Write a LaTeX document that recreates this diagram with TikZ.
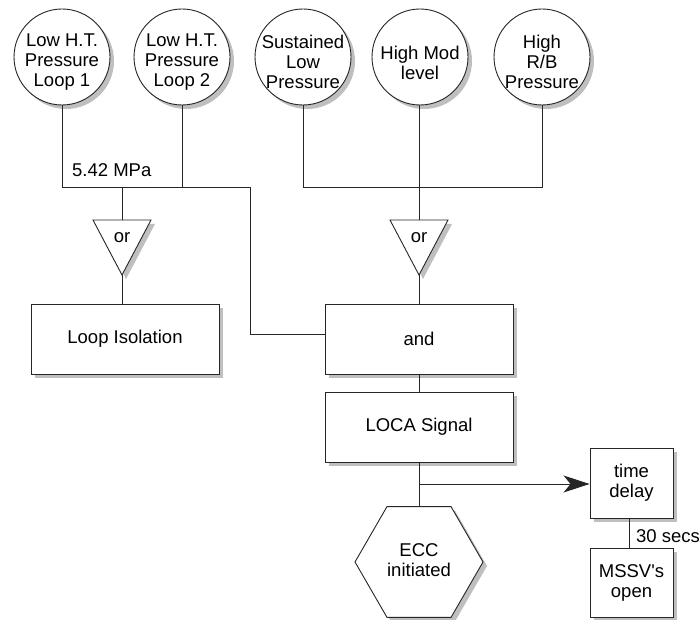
\documentclass[tikz,border=0pt]{standalone}
\usepackage{fontspec}
\setmainfont{Liberation Sans}
\usetikzlibrary{shapes.geometric,shadows,arrows.meta}
\begin{document}
\begin{tikzpicture}[x=1pt,y=-1pt,
  every node/.style={font=\fontsize{18.5}{20}\selectfont},
  shad/.style={drop shadow={shadow xshift=4pt,shadow yshift=-4pt,fill=black!25,opacity=1,draw=none}},
  line/.style={line width=0.9pt,draw=black!85},
  sensor/.style={circle,line,fill=white,shad,minimum size=96pt,inner sep=0pt},
  lbl/.style={align=center,inner sep=0pt},
  blk/.style={rectangle,line,fill=white,shad,inner sep=0pt,align=center},
  gate/.style={line,fill=white,shad}
]
\useasboundingbox (0,0) rectangle (699,620);

% sensors
\node[sensor] (c1) at (62,57) {};
\node[sensor] (c2) at (182,57) {};
\node[sensor] (c3) at (303,57) {};
\node[sensor] (c4) at (420,57) {};
\node[sensor] (c5) at (542,57) {};
\node[lbl] (t1) at (62,62) {Low H.T.\\Pressure\\Loop 1};
\node[lbl] (t2) at (182,62) {Low H.T.\\Pressure\\Loop 2};
\node[lbl] (t3) at (303,62) {Sustained\\Low\\Pressure};
\node[lbl] (t4) at (420,63) {High Mod\\level};
\node[lbl] (t5) at (542,62) {High\\R/B\\Pressure};

% or gates
\coordinate (or1top) at (122,220);
\coordinate (or1apex) at (122,275);
\coordinate (or2top) at (419,220);
\coordinate (or2apex) at (419,275);
\path[gate] (93,220) -- (151,220) -- (or1apex) -- cycle;
\path[gate] (390,220) -- (448,220) -- (or2apex) -- cycle;
\node[lbl] (or1) at (122,238) {or};
\node[lbl] (or2) at (419,238) {or};

% blocks
\node[blk,minimum width=188pt,minimum height=70pt] (loop) at (125,339) {Loop Isolation};
\node[blk,minimum width=188pt,minimum height=70pt] (and) at (419,339) {and};
\node[blk,minimum width=188pt,minimum height=70pt] (loca) at (419,427) {LOCA Signal};
\node[blk,minimum width=83pt,minimum height=70pt] (td) at (631.5,483) {time\\delay};
\node[blk,minimum width=83pt,minimum height=69pt] (mssv) at (631.5,582.5) {MSSV\textquotesingle s\\open};
\node[regular polygon,regular polygon sides=6,minimum size=128pt,inner sep=0pt,line,fill=white,shad,align=center] (ecc) at (419,562) {};
\node[lbl] (ecct) at (419,560) {ECC\\initiated};

% labels
\node[lbl,anchor=west] (mpa) at (72,170) {5.42 MPa};
\node[lbl,anchor=west] (secs) at (636,536) {30 secs};

% connectors
\coordinate (jA) at (250,187);
\coordinate (jB) at (303,187);
\coordinate (jC) at (542,187);
\draw[line] (c1.south) |- (jA) |- ([yshift=5pt]and.west);
\draw[line] (c2.south) -- (c2.south |- jA);
\draw[line] (or1top |- jA) -- (or1top);
\draw[line] (or1apex) -- (or1apex |- loop.north);
\draw[line] (c3.south) -- (jB) -- (jC) -- (c5.south);
\draw[line] (c4.south -| or2top) -- (or2top);
\draw[line] (or2apex) -- (and.north);
\draw[line] (and.south) -- (loca.north);
\draw[line] (loca.south) -- (ecc.north);
\coordinate (split) at (419,484);
\draw[line,-{Stealth[length=26pt,width=17pt,inset=7pt]}] (split) -- (td.west |- split);
\draw[line] ([xshift=-2.5pt]td.south) -- ([xshift=-2.5pt]mssv.north);
\end{tikzpicture}
\end{document}
